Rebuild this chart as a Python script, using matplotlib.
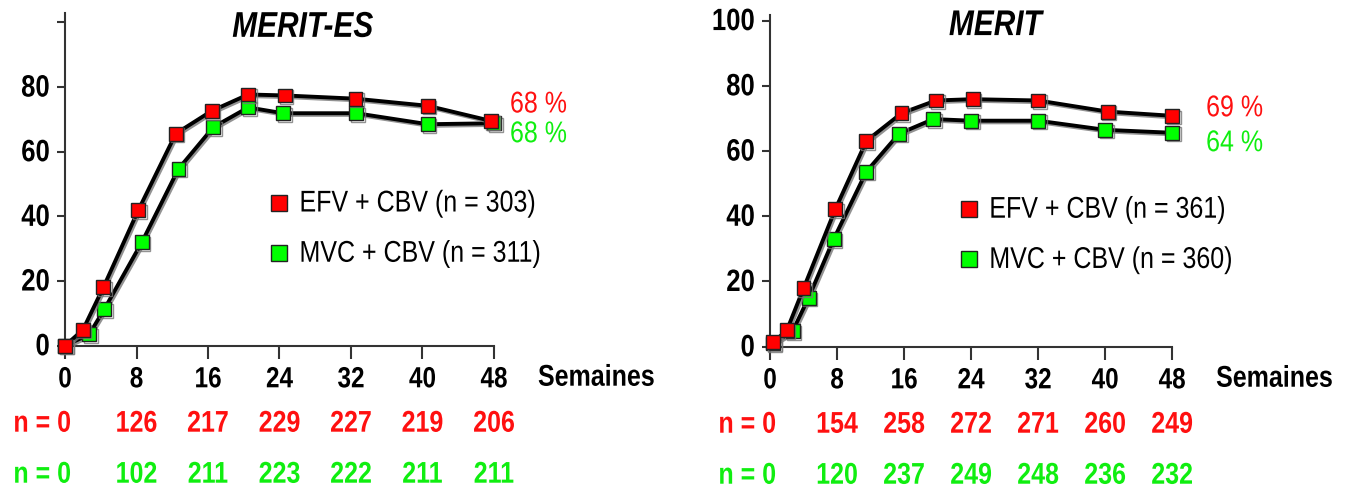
import matplotlib
matplotlib.use("Agg")
import matplotlib.pyplot as plt
import matplotlib.patheffects as pe
from matplotlib.lines import Line2D
from matplotlib.transforms import Affine2D

plt.rcParams['font.family'] = ['Liberation Sans', 'DejaVu Sans']

RED = '#ff0000'
GREEN = '#00ff00'
TXT_RED = '#ff1010'
TXT_GREEN = '#10ee10'


class VStretch(pe.AbstractPathEffect):
    # the slide text is drawn taller than it is wide; stretch glyphs up from the baseline
    def __init__(self, sy=1.2):
        super().__init__()
        self._sy = sy

    def draw_path(self, renderer, gc, tpath, affine, rgbFace=None):
        renderer.draw_path(gc, tpath, Affine2D().scale(1, self._sy) + affine, rgbFace)


TALL = [VStretch(1.2)]

## Data
weeks = [0, 8, 16, 24, 32, 40, 48]

# MERIT-ES
es_red_wk = [0, 2, 4.3, 8.2, 12.4, 16.4, 20.5, 24.6, 32.5, 40.6, 47.7]
es_red = [0, 4.9, 18.1, 41.9, 65.6, 72.6, 77.7, 77.4, 76.4, 74.2, 69.5]
es_grn_wk = [0, 2.7, 4.4, 8.6, 12.7, 16.6, 20.5, 24.4, 32.6, 40.6, 48]
es_grn = [0, 3.5, 11.3, 32.0, 54.7, 67.6, 73.7, 71.9, 71.9, 68.5, 68.8]
es_n_red = [126, 217, 229, 227, 219, 206]
es_n_grn = [102, 211, 223, 222, 211, 211]

# MERIT
mer_red_wk = [0.4, 2.0, 4.0, 7.8, 11.5, 15.7, 19.8, 24.2, 32.0, 40.3, 48.0]
mer_red = [1.4, 5.0, 17.9, 42.2, 63.1, 71.6, 75.5, 75.9, 75.5, 72.1, 70.8]
mer_grn_wk = [0.4, 2.7, 4.6, 7.6, 11.5, 15.4, 19.5, 24.0, 32.0, 40.0, 48.0]
mer_grn = [1.0, 4.8, 15.0, 33.0, 53.7, 65.3, 69.8, 69.3, 69.3, 66.5, 65.6]
mer_n_red = [154, 258, 272, 271, 260, 249]
mer_n_grn = [120, 237, 249, 248, 236, 232]

panels = [
    dict(title='MERIT-ES', rect=[0.0483, 0.2916, 0.3187, 0.6811], ytop=102.8,
         red_wk=es_red_wk, red=es_red, grn_wk=es_grn_wk, grn=es_grn,
         n_red=es_n_red, n_grn=es_n_grn, pct=('68 %', '68 %'),
         pct_y=(74.3, 65.1), pct_dx=16,
         leg=('EFV + CBV (n = 303)', 'MVC + CBV (n = 311)'), leg_xy=(22.6, 35.9),
         show100=False, title_x=26.6),
    dict(title='MERIT', rect=[0.5721, 0.2895, 0.2987, 0.6797], ytop=101.7,
         red_wk=mer_red_wk, red=mer_red, grn_wk=mer_grn_wk, grn=mer_grn,
         n_red=mer_n_red, n_grn=mer_n_grn, pct=('69 %', '64 %'),
         pct_y=(72.8, 62.1), pct_dx=34,
         leg=('EFV + CBV (n = 361)', 'MVC + CBV (n = 360)'), leg_xy=(22.3, 34.0),
         show100=True, title_x=26.9),
]

fig = plt.figure(figsize=(13.46, 4.88), dpi=100)

shadow = [pe.SimpleLineShadow(offset=(1.2, -1.2), shadow_color='#777777', alpha=0.8), pe.Normal()]

for p in panels:
    ax = fig.add_axes(p['rect'])
    ax.set_xlim(0, 48)
    ax.set_ylim(0, p['ytop'])

    for wk, val, col in [(p['grn_wk'], p['grn'], GREEN), (p['red_wk'], p['red'], RED)]:
        ax.plot(wk, val, color='black', lw=2.8, marker='s', markersize=10,
                markerfacecolor=col, markeredgecolor='#222222', markeredgewidth=1.0,
                clip_on=False, zorder=3, path_effects=shadow)

    for s in ['top', 'right']:
        ax.spines[s].set_visible(False)
    for s in ['left', 'bottom']:
        ax.spines[s].set_color('#333333')
        ax.spines[s].set_linewidth(1.5)

    ax.set_xticks(weeks)
    ax.set_xticklabels([str(w) for w in weeks])
    ax.set_yticks([0, 20, 40, 60, 80, 100])
    ylabels = ['0', '20', '40', '60', '80', '100' if p['show100'] else '']
    ax.set_yticklabels(ylabels)
    ax.tick_params(axis='x', length=9, width=1.5, color='#333333', pad=8,
                   labelsize=17.5)
    ax.tick_params(axis='y', length=6, width=1.5, color='#333333', pad=5,
                   labelsize=18.5)
    for lab in ax.get_xticklabels() + ax.get_yticklabels():
        lab.set_fontweight('bold')
        lab.set_path_effects(TALL)

    ax.text(p['title_x'], 98.0, p['title'], ha='center', va='center',
            fontsize=21.5, fontweight='bold', fontstyle='italic', path_effects=TALL)

    # end percentages
    ax.annotate(p['pct'][0], xy=(48, p['pct_y'][0]), xytext=(p['pct_dx'], 0),
                textcoords='offset pixels', ha='left', va='center',
                fontsize=18, color=TXT_RED, annotation_clip=False, path_effects=TALL)
    ax.annotate(p['pct'][1], xy=(48, p['pct_y'][1]), xytext=(p['pct_dx'], 0),
                textcoords='offset pixels', ha='left', va='center',
                fontsize=18, color=TXT_GREEN, annotation_clip=False, path_effects=TALL)

    ax.annotate('Semaines', xy=(48, 0), xytext=(44, -33), textcoords='offset pixels',
                ha='left', va='center', fontsize=18, fontweight='bold',
                annotation_clip=False, path_effects=TALL)

    # patient counts under the axis
    for row, col, dy in [(p['n_red'], TXT_RED, -79), (p['n_grn'], TXT_GREEN, -130)]:
        ax.annotate('n = 0', xy=(0, 0), xytext=(6, dy), textcoords='offset pixels',
                    ha='right', va='center', fontsize=18, fontweight='bold',
                    color=col, annotation_clip=False, path_effects=TALL)
        for w, n in zip(weeks[1:], row):
            ax.annotate(str(n), xy=(w, 0), xytext=(0, dy), textcoords='offset pixels',
                        ha='center', va='center', fontsize=18, fontweight='bold',
                        color=col, annotation_clip=False, path_effects=TALL)

    handles = [
        Line2D([], [], ls='none', marker='s', markersize=11, markerfacecolor=RED,
               markeredgecolor='#222222'),
        Line2D([], [], ls='none', marker='s', markersize=11, markerfacecolor=GREEN,
               markeredgecolor='#222222'),
    ]
    leg = ax.legend(handles, list(p['leg']), loc='center left',
                    bbox_to_anchor=p['leg_xy'], bbox_transform=ax.transData,
                    frameon=False, fontsize=18, handlelength=1.0, handletextpad=0.3,
                    borderpad=0, borderaxespad=0, labelspacing=1.05)
    for t in leg.get_texts():
        t.set_path_effects(TALL)

fig.savefig('out.png', dpi=100)
